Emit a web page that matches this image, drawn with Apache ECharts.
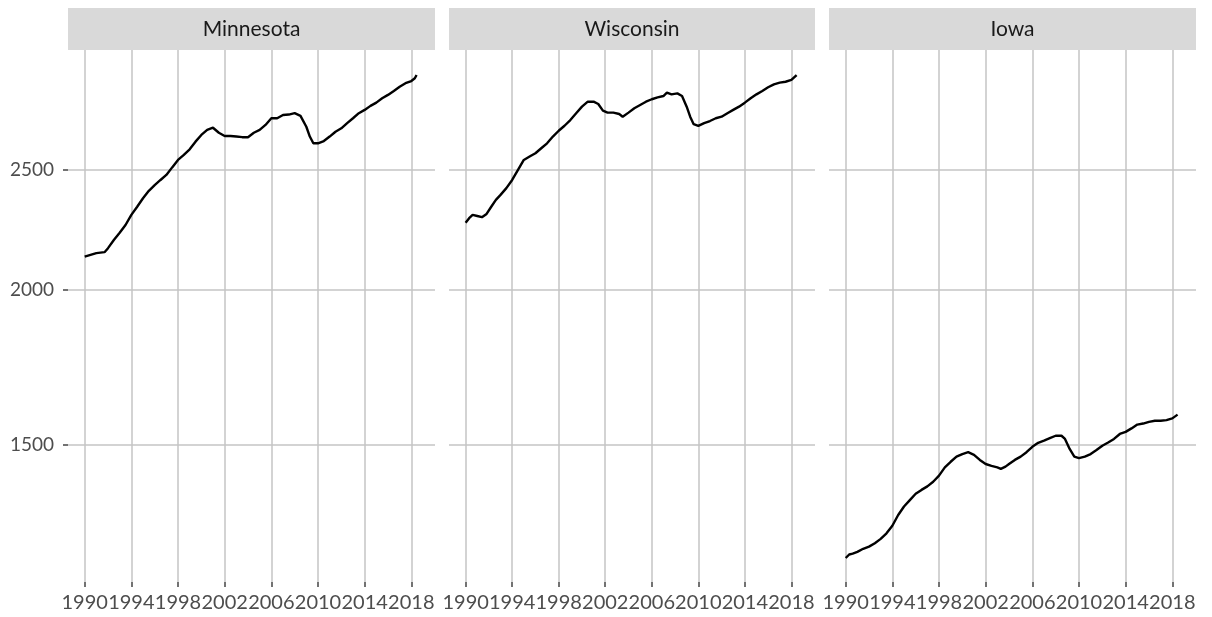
<!DOCTYPE html>
<html>
<head>
<meta charset="utf-8">
<script src="https://cdn.jsdelivr.net/npm/echarts@6/dist/echarts.min.js"></script>
<style>
html, body { margin: 0; padding: 0; background: #fff; }
#chart { width: 1212px; height: 617px; }
</style>
</head>
<body>
<div id="chart"></div>
<script>
var states = ['Minnesota', 'Wisconsin', 'Iowa'];
var yearTicks = [1990, 1994, 1998, 2002, 2006, 2010, 2014, 2018];
var valueTicks = [1500, 2000, 2500];

var mnYears = [1990.0, 1991.0, 1991.7, 1992.0, 1992.5, 1993.0, 1993.5, 1994.0, 1994.5, 1995.0,
	1995.5, 1996.0, 1996.5, 1997.0, 1997.5, 1998.0, 1998.5, 1999.0, 1999.5, 2000.0,
	2000.5, 2001.0, 2001.5, 2002.0, 2002.5, 2003.0, 2003.5, 2004.0, 2004.5, 2005.0,
	2005.5, 2006.0, 2006.5, 2007.0, 2007.5, 2008.0, 2008.5, 2009.0, 2009.3, 2009.6,
	2010.0, 2010.5, 2011.0, 2011.5, 2012.0, 2012.5, 2013.0, 2013.5, 2014.0, 2014.5,
	2015.0, 2015.5, 2016.0, 2016.5, 2017.0, 2017.5, 2018.0, 2018.3, 2018.45];
var mnValues = [2128, 2142, 2146, 2162, 2195, 2225, 2257, 2300, 2335, 2372,
	2405, 2431, 2454, 2477, 2512, 2547, 2571, 2598, 2635, 2668,
	2693, 2704, 2679, 2663, 2663, 2660, 2657, 2657, 2679, 2693,
	2718, 2752, 2752, 2769, 2771, 2778, 2764, 2709, 2660, 2627,
	2627, 2638, 2660, 2684, 2701, 2727, 2752, 2778, 2795, 2816,
	2833, 2856, 2874, 2895, 2918, 2937, 2949, 2964, 2982];

var wiYears = [1990.0, 1990.3, 1990.6, 1991.0, 1991.4, 1991.8, 1992.2, 1992.6, 1993.0, 1993.5,
	1994.0, 1994.5, 1995.0, 1995.5, 1996.0, 1996.5, 1997.0, 1997.5, 1998.0, 1998.5,
	1999.0, 1999.5, 2000.0, 2000.5, 2001.0, 2001.4, 2001.8, 2002.2, 2002.7, 2003.2,
	2003.5, 2004.0, 2004.5, 2005.0, 2005.5, 2006.0, 2006.5, 2007.0, 2007.3, 2007.7,
	2008.2, 2008.6, 2009.0, 2009.3, 2009.6, 2010.0, 2010.5, 2011.0, 2011.5, 2012.0,
	2012.5, 2013.0, 2013.5, 2014.0, 2014.5, 2015.0, 2015.5, 2016.0, 2016.5, 2017.0,
	2017.5, 2018.0, 2018.45];
var wiValues = [2267, 2286, 2300, 2295, 2290, 2304, 2335, 2365, 2387, 2417,
	2454, 2500, 2547, 2563, 2579, 2603, 2627, 2660, 2689, 2714,
	2743, 2778, 2812, 2838, 2838, 2826, 2791, 2781, 2781, 2774,
	2760, 2781, 2804, 2821, 2838, 2851, 2861, 2868, 2886, 2877,
	2882, 2868, 2812, 2760, 2722, 2713, 2727, 2738, 2752, 2760,
	2778, 2795, 2812, 2833, 2856, 2877, 2895, 2915, 2931, 2940,
	2945, 2955, 2982];

var iaYears = [1990.0, 1990.3, 1990.6, 1991.0, 1991.5, 1992.0, 1992.5, 1993.0, 1993.5, 1994.0,
	1994.5, 1995.0, 1995.5, 1996.0, 1996.5, 1997.0, 1997.5, 1998.0, 1998.5, 1999.0,
	1999.5, 2000.0, 2000.5, 2001.0, 2001.5, 2002.0, 2002.5, 2003.0, 2003.3, 2003.7,
	2004.0, 2004.5, 2005.0, 2005.5, 2006.0, 2006.5, 2007.0, 2007.5, 2008.0, 2008.5,
	2008.8, 2009.2, 2009.6, 2010.0, 2010.5, 2011.0, 2011.5, 2012.0, 2012.5, 2013.0,
	2013.5, 2014.0, 2014.5, 2015.0, 2015.5, 2016.0, 2016.5, 2017.0, 2017.5, 2018.0,
	2018.45];
var iaValues = [1216, 1224, 1226, 1230, 1237, 1242, 1250, 1260, 1273, 1291,
	1317, 1338, 1354, 1370, 1380, 1389, 1401, 1417, 1439, 1454,
	1468, 1475, 1480, 1473, 1459, 1448, 1443, 1439, 1435, 1441,
	1448, 1459, 1468, 1480, 1495, 1506, 1512, 1519, 1526, 1526,
	1517, 1489, 1468, 1464, 1468, 1475, 1486, 1498, 1507, 1517,
	1531, 1537, 1547, 1558, 1561, 1566, 1569, 1569, 1571, 1576,
	1587];

var panelYears = [mnYears, wiYears, iaYears];
var panelValues = [mnValues, wiValues, iaValues];

var panelLeft = [68, 449, 829];
var panelWidth = [367, 366, 367];
var fontName = 'Lato';

function pairs(xs, ys) {
	var out = [];
	for (var i = 0; i < xs.length; i++) {
		out.push([xs[i], ys[i]]);
	}
	return out;
}

function plain(v) {
	return String(Math.round(v));
}

var grids = [], xAxes = [], yAxes = [], series = [], graphics = [];
for (var p = 0; p < states.length; p++) {
	grids.push({ left: panelLeft[p], width: panelWidth[p], top: 50, bottom: 35 });

	xAxes.push({
		type: 'value', gridIndex: p, min: 1988.57, max: 2020.03,
		axisLine: { show: false },
		axisTick: { show: true, length: 5, customValues: yearTicks, lineStyle: { color: '#444', width: 1.5 } },
		axisLabel: {
			customValues: yearTicks, formatter: plain, margin: 11,
			showMinLabel: true, showMaxLabel: true, hideOverlap: false,
			color: '#4d4d4d', fontSize: 20, fontFamily: fontName
		},
		splitLine: { show: true, lineStyle: { color: '#c4c4c4', width: 1.5 } }
	});

	yAxes.push({
		type: 'log', gridIndex: p, min: 1163, max: 3124,
		axisLine: { show: false },
		axisTick: { show: p == 0, length: 5, customValues: valueTicks, lineStyle: { color: '#444', width: 1.5 } },
		axisLabel: {
			show: p == 0, customValues: valueTicks, formatter: plain, margin: 14,
			color: '#4d4d4d', fontSize: 19, fontFamily: fontName
		},
		splitLine: { show: true, lineStyle: { color: '#c4c4c4', width: 1.5 } },
		minorSplitLine: { show: false }
	});

	series.push({
		type: 'line', name: states[p], xAxisIndex: p, yAxisIndex: p,
		data: pairs(panelYears[p], panelValues[p]),
		showSymbol: false, smooth: false,
		lineStyle: { color: '#000', width: 2.4 },
		animation: false
	});

	// facet strip
	graphics.push({
		type: 'rect', left: panelLeft[p], top: 8,
		shape: { width: panelWidth[p], height: 42 },
		style: { fill: '#d9d9d9' }
	});
	graphics.push({
		type: 'text', x: panelLeft[p] + panelWidth[p] / 2, y: 29,
		style: { text: states[p], fill: '#1a1a1a', font: '21px ' + fontName, align: 'center', verticalAlign: 'middle' }
	});
}

var chart = echarts.init(document.getElementById('chart'));
chart.setOption({
	backgroundColor: '#fff',
	animation: false,
	grid: grids,
	xAxis: xAxes,
	yAxis: yAxes,
	series: series,
	graphic: graphics
});
</script>
</body>
</html>
